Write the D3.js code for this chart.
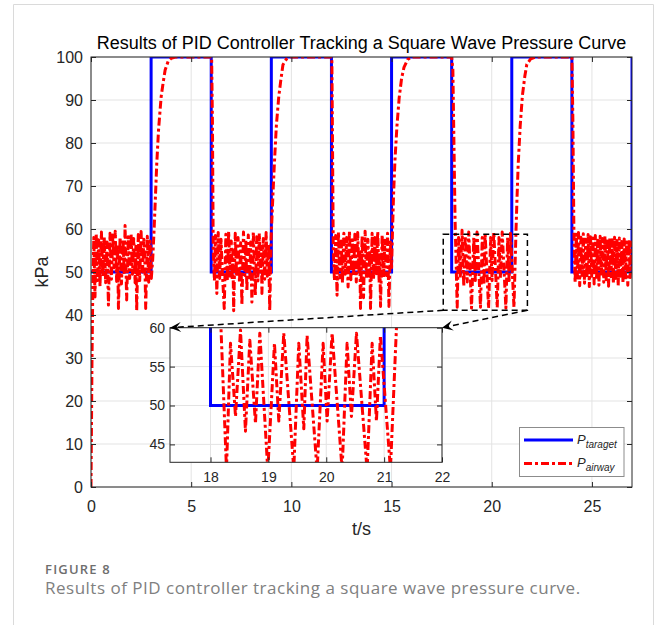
<!DOCTYPE html>
<html>
<head>
<meta charset="utf-8">
<script src="https://cdn.jsdelivr.net/npm/d3@7"></script>
<style>
body{margin:0;background:#fff;}
svg{display:block;font-family:"Liberation Sans",Arial,sans-serif;}
</style>
</head>
<body>
<svg id="chart" width="656" height="625"></svg>
<script>
// square wave target (value holds until next time)
var targetSteps = [[0,50],[3,100],[6,50],[9,100],[12,50],[15,100],[18,50],[21,100],[24,50],[27,100]];

var airway0to3 = [
    [0,0],[0.05,30],[0.1,50],[0.14,58],[0.2,44.2],[0.26,59],[0.32,48],[0.38,57.5],[0.45,46.7],
    [0.52,59.3],[0.59,49],[0.66,58.2],[0.73,47.5],[0.8,57],[0.87,42.3],[0.95,59],[1.02,48.3],
    [1.09,58.6],[1.15,51],[1.21,59.5],[1.28,47.8],[1.32,56.5],[1.37,41.5],[1.45,58],[1.52,47.2],
    [1.6,57.4],[1.66,49.5],[1.7,60.8],[1.78,43.5],[1.86,58.2],[1.93,48.5],[2.0,59],[2.07,49.5],
    [2.13,57.8],[2.2,47.5],[2.24,56],[2.28,41],[2.36,58.7],[2.43,48],[2.5,59.4],[2.57,50],
    [2.64,57.6],[2.69,52],[2.73,41.5],[2.81,58.3],[2.88,47.6],[2.95,57.2],[3.01,48.5]
];
var airway3to6 = [[3.08,53],[3.15,60],[3.22,68],[3.28,75],[3.37,83],[3.5,90.7],[3.6,94],[3.7,97],[3.85,99],[4.0,99.7],[4.2,100],[6.02,100]];
var airway6to9 = [
    [6.06,85],[6.1,55],[6.16,48],[6.21,58.5],[6.28,45],[6.35,59.2],[6.42,48.5],[6.49,57.6],[6.56,49.5],
    [6.65,41.5],[6.73,58.8],[6.8,47.8],[6.87,59.5],[6.94,49],[7.0,57.2],[7.05,48.2],[7.08,55],[7.12,41],
    [7.2,59],[7.27,48.8],[7.34,58],[7.41,47.5],[7.47,56.8],[7.53,42.3],[7.61,59.3],[7.68,49.2],[7.73,57.5],
    [7.78,45.5],[7.85,58.6],[7.92,48],[7.97,57],[8.03,43],[8.1,59.4],[8.2,44.6],[8.27,58.2],[8.33,47.9],
    [8.4,59],[8.46,50],[8.5,56],[8.53,45],[8.6,57.8],[8.67,48.3],[8.74,59.2],[8.8,49],[8.86,56.5],[8.92,41]
];
var airway9to12 = [[8.99,58],[9.08,68],[9.15,75],[9.25,84],[9.37,90.7],[9.47,94.5],[9.58,98.2],[9.75,99.5],[9.95,100],[12.02,100]];
var airway12to15 = [
    [12.05,82],[12.09,56],[12.15,48],[12.21,58.5],[12.28,44.6],[12.35,59.3],[12.42,48.6],[12.49,57.2],
    [12.55,47.5],[12.62,59],[12.69,49.5],[12.76,58],[12.83,46.5],[12.9,59.6],[12.97,48.2],[13.04,57.5],
    [13.1,49],[13.17,58.8],[13.24,47.7],[13.31,59.2],[13.38,49.5],[13.41,55],[13.45,41.5],[13.53,58.3],
    [13.6,44],[13.68,59.5],[13.75,48.5],[13.82,57.6],[13.88,49],[13.91,55],[13.95,41.5],[14.03,59],
    [14.1,48.2],[14.17,58],[14.24,49.6],[14.31,59.4],[14.38,47.5],[14.41,54],[14.45,42],[14.53,58.6],
    [14.6,48.8],[14.67,57.4],[14.74,49.2],[14.8,59],[14.87,42],[14.94,57],[15.0,51]
];
var airway15to18 = [[15.05,60],[15.1,68],[15.17,76],[15.27,84],[15.38,90.5],[15.5,95],[15.62,97.6],[15.8,99.4],[16.0,100],[18.0,100]];
var airway18to21 = [
    [18.06,97],[18.17,62],[18.276,41.8],[18.345,58],[18.432,48.6],[18.518,59.7],[18.604,46.7],[18.679,58.4],
    [18.777,47.7],[18.852,59.3],[18.99,41.6],[19.105,58],[19.18,48],[19.266,59.3],[19.439,41.8],[19.525,58],
    [19.612,47],[19.669,59],[19.842,41.6],[19.946,58],[20.015,48],[20.101,59.3],[20.274,41.7],[20.36,58],
    [20.435,48.6],[20.522,59.3],[20.706,41.6],[20.793,58],[20.867,48],[20.936,59],[21.109,41.8]
];
var airway21to24 = [[21.213,60],[21.26,67],[21.32,75],[21.42,84],[21.53,91],[21.65,95.5],[21.75,98.3],[21.95,99.6],[22.2,100],[24.0,100]];
var airway24to27 = [
    [24.05,85],[24.1,59.5],[24.16,47.5],[24.22,58.8],[24.28,48.6],[24.33,59.2],[24.39,46.8],[24.45,58.1],
    [24.51,49.2],[24.57,58.9],[24.63,47.4],[24.69,57.6],[24.75,48.5],[24.81,58.7],[24.87,46.6],[24.93,58.2],
    [24.99,49],[25.05,57.9],[25.11,47.2],[25.17,58.5],[25.23,48.4],[25.29,57.4],[25.35,46.9],[25.41,58.3],
    [25.47,49.1],[25.53,57.8],[25.59,47.6],[25.65,58.4],[25.71,48.2],[25.77,57.2],[25.83,46.7],[25.89,58],
    [25.95,48.9],[26.01,57.5],[26.07,47.3],[26.13,58.1],[26.19,48.5],[26.25,57.3],[26.31,46.8],[26.37,57.9],
    [26.43,49],[26.49,57.1],[26.55,47.5],[26.61,57.7],[26.67,48.3],[26.73,57],[26.79,46.9],[26.85,57.6],
    [26.91,48.7],[26.97,56.9],[27.0,50]
];

var xTicks = [0, 5, 10, 15, 20, 25];
var yTicks = [0, 10, 20, 30, 40, 50, 60, 70, 80, 90, 100];
var insetXTicks = [18, 19, 20, 21, 22];
var insetYTicks = [45, 50, 55, 60];

var airway = [].concat(airway0to3, airway3to6, airway6to9, airway9to12, airway12to15,
    airway15to18, airway18to21, airway21to24, airway24to27);

var svg = d3.select("#chart");
var defs = svg.append("defs");
var axisColor = "#262626";
var gridColor = "#e3e3e3";
var dashDot = "8,3,3,3";
var fmt = d3.format("d");

// card frame of the page
svg.append("path")
    .attr("d", "M13.5,625V4.5H653.5V625")
    .attr("fill", "none")
    .attr("stroke", "#dadada");

var x = d3.scaleLinear().domain([0, 27]).range([91, 632]);
var y = d3.scaleLinear().domain([0, 100]).range([487, 57]);

function drawGrid(g, sx, sy, xt, yt) {
    var r = sx.range(), d = sy.range();
    var grid = g.append("g");
    xt.forEach(function (v) {
        grid.append("line").attr("x1", sx(v)).attr("x2", sx(v)).attr("y1", d[0]).attr("y2", d[1])
            .attr("stroke", gridColor);
    });
    yt.forEach(function (v) {
        grid.append("line").attr("x1", r[0]).attr("x2", r[1]).attr("y1", sy(v)).attr("y2", sy(v))
            .attr("stroke", gridColor);
    });
}

function drawFrame(g, sx, sy, xt, yt, fs, xPad, yPad) {
    var r = sx.range(), d = sy.range();
    var axes = [
        g.append("g").attr("transform", "translate(0," + d[0] + ")")
            .call(d3.axisBottom(sx).tickValues(xt).tickFormat(fmt).tickSize(-5).tickSizeOuter(0).tickPadding(xPad)),
        g.append("g").attr("transform", "translate(0," + d[1] + ")")
            .call(d3.axisTop(sx).tickValues(xt).tickSize(-5).tickSizeOuter(0).tickFormat("")),
        g.append("g").attr("transform", "translate(" + r[0] + ",0)")
            .call(d3.axisLeft(sy).tickValues(yt).tickFormat(fmt).tickSize(-5).tickSizeOuter(0).tickPadding(yPad)),
        g.append("g").attr("transform", "translate(" + r[1] + ",0)")
            .call(d3.axisRight(sy).tickValues(yt).tickSize(-5).tickSizeOuter(0).tickFormat(""))
    ];
    axes.forEach(function (a) {
        a.attr("font-family", null).attr("font-size", fs + "px");
        a.select(".domain").remove();
        a.selectAll(".tick line").attr("stroke", axisColor);
        a.selectAll(".tick text").attr("fill", axisColor);
    });
    g.append("rect")
        .attr("x", r[0]).attr("y", d[1])
        .attr("width", r[1] - r[0]).attr("height", d[0] - d[1])
        .attr("fill", "none").attr("stroke", axisColor);
}

function drawSeries(g, sx, sy, clipId) {
    var r = sx.range(), d = sy.range();
    defs.append("clipPath").attr("id", clipId)
        .append("rect").attr("x", r[0]).attr("y", d[1])
        .attr("width", r[1] - r[0]).attr("height", d[0] - d[1]);
    var lines = g.append("g").attr("clip-path", "url(#" + clipId + ")");
    lines.append("path")
        .datum(targetSteps)
        .attr("d", d3.line().x(function (p) { return sx(p[0]); }).y(function (p) { return sy(p[1]); }).curve(d3.curveStepAfter))
        .attr("fill", "none").attr("stroke", "#0000ff").attr("stroke-width", 3);
    lines.append("path")
        .datum(airway)
        .attr("d", d3.line().x(function (p) { return sx(p[0]); }).y(function (p) { return sy(p[1]); }))
        .attr("fill", "none").attr("stroke", "#ff0000").attr("stroke-width", 3)
        .attr("stroke-dasharray", dashDot).attr("stroke-linejoin", "round");
}

// main axes
var main = svg.append("g");
drawGrid(main, x, y, xTicks, yTicks);
drawSeries(main, x, y, "clipMain");
drawFrame(main, x, y, xTicks, yTicks, 16, 13.3, 8);

svg.append("text")
    .attr("x", 361.5).attr("y", 49)
    .attr("text-anchor", "middle")
    .attr("font-size", "18px").attr("fill", "#000")
    .text("Results of PID Controller Tracking a Square Wave Pressure Curve");

svg.append("text")
    .attr("x", 361.5).attr("y", 535)
    .attr("text-anchor", "middle")
    .attr("font-size", "18px").attr("fill", axisColor)
    .text("t/s");

svg.append("text")
    .attr("transform", "translate(48,272) rotate(-90)")
    .attr("text-anchor", "middle")
    .attr("font-size", "18px").attr("fill", axisColor)
    .text("kPa");

// zoom box on the main axes
var box = { t0: 17.58, t1: 21.78, p0: 41.1, p1: 58.8 };
svg.append("rect")
    .attr("x", x(box.t0)).attr("y", y(box.p1))
    .attr("width", x(box.t1) - x(box.t0)).attr("height", y(box.p0) - y(box.p1))
    .attr("fill", "none").attr("stroke", "#000").attr("stroke-width", 1.5)
    .attr("stroke-dasharray", "6,4");

// inset axes
var xi = d3.scaleLinear().domain([17.3, 22]).range([170, 442]);
var yi = d3.scaleLinear().domain([42.7, 60]).range([462.3, 327.7]);
var inset = svg.append("g");
inset.append("rect")
    .attr("x", 170).attr("y", 327.7).attr("width", 272).attr("height", 134.6)
    .attr("fill", "#fff");
drawGrid(inset, xi, yi, insetXTicks, insetYTicks);
drawSeries(inset, xi, yi, "clipInset");
drawFrame(inset, xi, yi, insetXTicks, insetYTicks, 14, 9.5, 5);

// dashed arrows from the zoom box to the inset
function arrow(x1, y1, x2, y2) {
    var ang = Math.atan2(y2 - y1, x2 - x1);
    var len = Math.sqrt((x2 - x1) * (x2 - x1) + (y2 - y1) * (y2 - y1));
    var g = svg.append("g")
        .attr("transform", "translate(" + x2 + "," + y2 + ") rotate(" + (ang * 180 / Math.PI) + ")");
    g.append("line")
        .attr("x1", -len).attr("y1", 0).attr("x2", -6).attr("y2", 0)
        .attr("stroke", "#000").attr("stroke-width", 1.5).attr("stroke-dasharray", "6,4");
    g.append("path")
        .attr("d", "M0,0L-11,-5L-6.5,0L-11,5Z")
        .attr("fill", "#000");
}
arrow(x(box.t0), y(box.p0), xi(17.3), yi(60));
arrow(x(box.t1), y(box.p0), xi(22), yi(60));

// legend
var leg = svg.append("g");
leg.append("rect")
    .attr("x", 519.5).attr("y", 427.5).attr("width", 104.5).attr("height", 49)
    .attr("fill", "#fff").attr("stroke", "#8c8c8c");
var legItems = [
    { name: "taraget", color: "#0000ff", dash: null, y: 440 },
    { name: "airway", color: "#ff0000", dash: dashDot, y: 463.5 }
];
legItems.forEach(function (it) {
    leg.append("line")
        .attr("x1", 524).attr("x2", 573).attr("y1", it.y).attr("y2", it.y)
        .attr("stroke", it.color).attr("stroke-width", 3)
        .attr("stroke-dasharray", it.dash);
    var t = leg.append("text")
        .attr("x", 577).attr("y", it.y + 3.5)
        .attr("font-size", "13px").attr("font-style", "italic").attr("fill", axisColor);
    t.append("tspan").text("P");
    t.append("tspan").attr("dy", 4).attr("font-size", "10px").text(it.name);
});

// figure caption
svg.append("text")
    .attr("x", 45).attr("y", 574)
    .attr("font-family", "'Open Sans', sans-serif")
    .attr("font-size", "13px").attr("font-weight", 600).attr("fill", "#6e6e6e")
    .attr("letter-spacing", 1.2)
    .text("FIGURE 8");
svg.append("text")
    .attr("x", 45).attr("y", 593.5)
    .attr("font-family", "'Open Sans', sans-serif")
    .attr("font-size", "17px").attr("fill", "#808080")
    .attr("letter-spacing", 0.5)
    .text("Results of PID controller tracking a square wave pressure curve.");
</script>
</body>
</html>
